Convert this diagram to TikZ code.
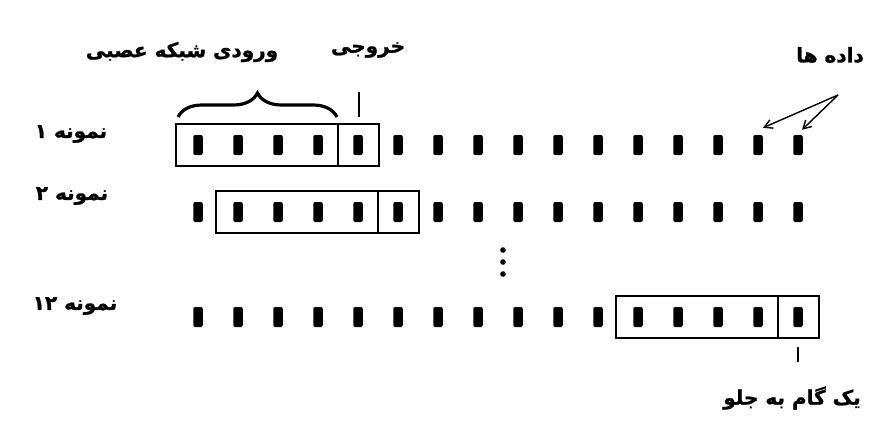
\documentclass[tikz,border=0pt]{standalone}
\usepackage{fontspec}
\newfontfamily\fa[Script=Arabic, BoldFeatures={FakeBold=1.2}]{DejaVu Sans}
\TeXXeTstate=1
\usetikzlibrary{decorations.pathreplacing,arrows.meta}
\begin{document}
\begin{tikzpicture}[x=1pt,y=-1pt,
  datum/.style={fill=black, rounded corners=2pt, minimum width=9.5pt, minimum height=20pt, inner sep=0pt},
  win/.style={draw=black, line width=1.8pt},
  lbl/.style={font=\fa\bfseries\fontsize{20}{24}\selectfont, inner sep=0pt},
  tick/.style={line width=2.4pt},
  pointer/.style={line width=1.4pt, -{Straight Barb[length=8pt,width=9pt]}}]
\useasboundingbox (0,0) rectangle (869,429);
\foreach \r/\y in {1/145, 2/212, 12/317} {
  \foreach \k in {0,...,15} {
    \node[datum] (d\r-\k) at ({198+40*\k}, \y) {};
  }
}
\foreach \r/\y/\s in {1/145/0, 2/212/1, 12/317/11} {
  \pgfmathsetmacro\L{198+40*\s-22}
  \pgfmathsetmacro\D{198+40*(\s+3)+20}
  \pgfmathsetmacro\R{198+40*(\s+4)+21}
  \draw[win] (\L,\y-21) rectangle (\R,\y+21);
  \draw[win] (\D,\y-21) -- (\D,\y+21);
}
\draw[decorate, decoration={brace, amplitude=24pt}, line width=3.2pt] (178,117) -- (337,117);
\draw[tick] (359,92) -- (359,117);
\draw[tick] (798,347) -- (798,362);
\foreach \yy in {250,262,274} \fill (503,\yy) circle (2.8pt);
\node[lbl] (inlbl) at (182,52) {\beginR ورودی شبکه عصبی\endR};
\node[lbl] (outlbl) at (368,50) {\beginR خروجی\endR};
\node[lbl] (s1) at (71,134) {\beginR نمونه ۱\endR};
\node[lbl] (s2) at (72,196) {\beginR نمونه ۲\endR};
\node[lbl] (s12) at (75,306) {\beginR نمونه ۱۲\endR};
\node[lbl] (data) at (830,55) {\beginR داده ها\endR};
\node[lbl] (stepl) at (792,398) {\beginR یک گام به جلو\endR};
\coordinate (src) at (838,95);
\draw[pointer] (src) -- ([xshift=5pt,yshift=7pt]d1-14.north);
\draw[pointer] (src) -- ([xshift=4pt,yshift=5pt]d1-15.north);
\end{tikzpicture}
\end{document}
